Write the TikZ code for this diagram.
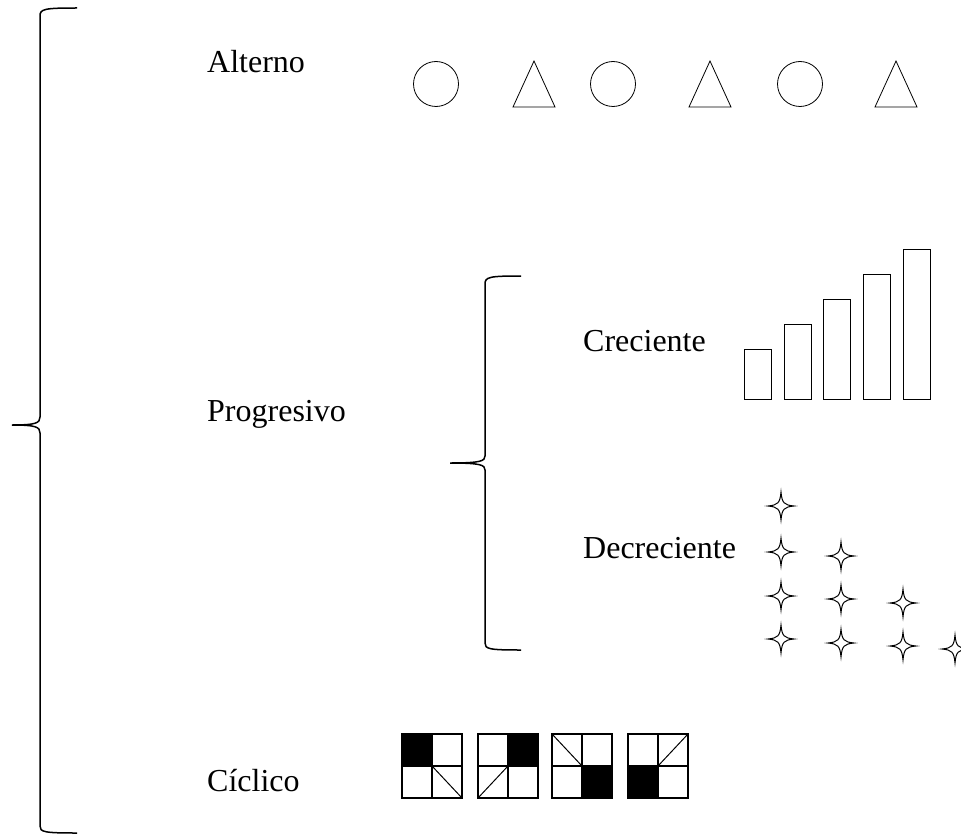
\documentclass[tikz,border=0pt]{standalone}
\usepackage{fontspec}
\setmainfont{Liberation Serif}
\usetikzlibrary{positioning}

\tikzset{
  sparkle/.pic={
    \draw[line width=1pt] (13,0) .. controls (3,1) and (1,3) .. (0,14)
      .. controls (-1,3) and (-3,1) .. (-13,0)
      .. controls (-3,-1) and (-1,-3) .. (0,-14)
      .. controls (1,-3) and (3,-1) .. (13,0) -- cycle;
  }
}

\begin{document}
\begin{tikzpicture}[x=1pt, y=-1pt,
                    word/.style={anchor=base west,inner sep=0pt,font=\fontsize{32}{38}\selectfont},
                    brace line/.style={line width=1.5pt},
                    shape line/.style={line width=0.8pt},
                    cell line/.style={line width=1.5pt}]

  \useasboundingbox (0,0) rectangle (961,840);

  % labels
  \node[word] (alterno) at (207,73) {Alterno};
  \node[word] (progresivo) at (207,421) {Progresivo};
  \node[word] (ciclico) at (207,791) {Cíclico};
  \node[word] (creciente) at (583,351) {Creciente};
  \node[word] (decreciente) at (583,558) {Decreciente};

  % outer brace
  \draw[brace line] (77,8) .. controls (44,8) and (40,9) .. (40,16) -- (40,417)
    .. controls (40,423) and (36,425) .. (12,425)
    .. controls (36,425) and (40,427) .. (40,433) -- (40,826)
    .. controls (40,832) and (44,833) .. (77,833);

  % inner brace
  \draw[brace line] (521,276) .. controls (489,276) and (485,277) .. (485,284) -- (485,456)
    .. controls (485,461) and (481,463) .. (450,463)
    .. controls (481,463) and (485,465) .. (485,470) -- (485,643)
    .. controls (485,649) and (489,650) .. (521,650);

  % alternating circles and triangles
  \foreach \cx in {436,613,800}
    \draw[shape line] (\cx,84) circle (22.5);
  \foreach \tx in {534,710,896}
    \draw[shape line] (\tx,61) -- (\tx+21,107) -- (\tx-21,107) -- cycle;

  % growing bars
  \foreach \bx/\top in {744/349, 784/324, 823/299, 863/274, 903/249}
    \draw[shape line] (\bx,\top) rectangle (\bx+27,399);

  % shrinking rows of stars
  \foreach \sx/\sy in {781/506, 781/552, 841/556, 781/596, 841/599, 903/603,
                       781/639, 841/643, 903/646, 955/649}
    \pic at (\sx,\sy) {sparkle};

  % cycling squares
  \foreach \qx/\bx/\by/\dx/\dy in {402/0/0/1/1, 478/1/0/0/1, 552/1/1/0/0, 628/0/1/1/0} {
    \fill (\qx+\bx*30,734+\by*32) rectangle ++(30,32);
    \draw[cell line] (\qx,734) rectangle ++(60,64);
    \draw[cell line] (\qx+30,734) -- ++(0,64);
    \draw[cell line] (\qx,766) -- ++(60,0);
    \draw[line width=1pt] (\qx+30,766) -- (\qx+\dx*60,734+\dy*64);
  }

\end{tikzpicture}
\end{document}
